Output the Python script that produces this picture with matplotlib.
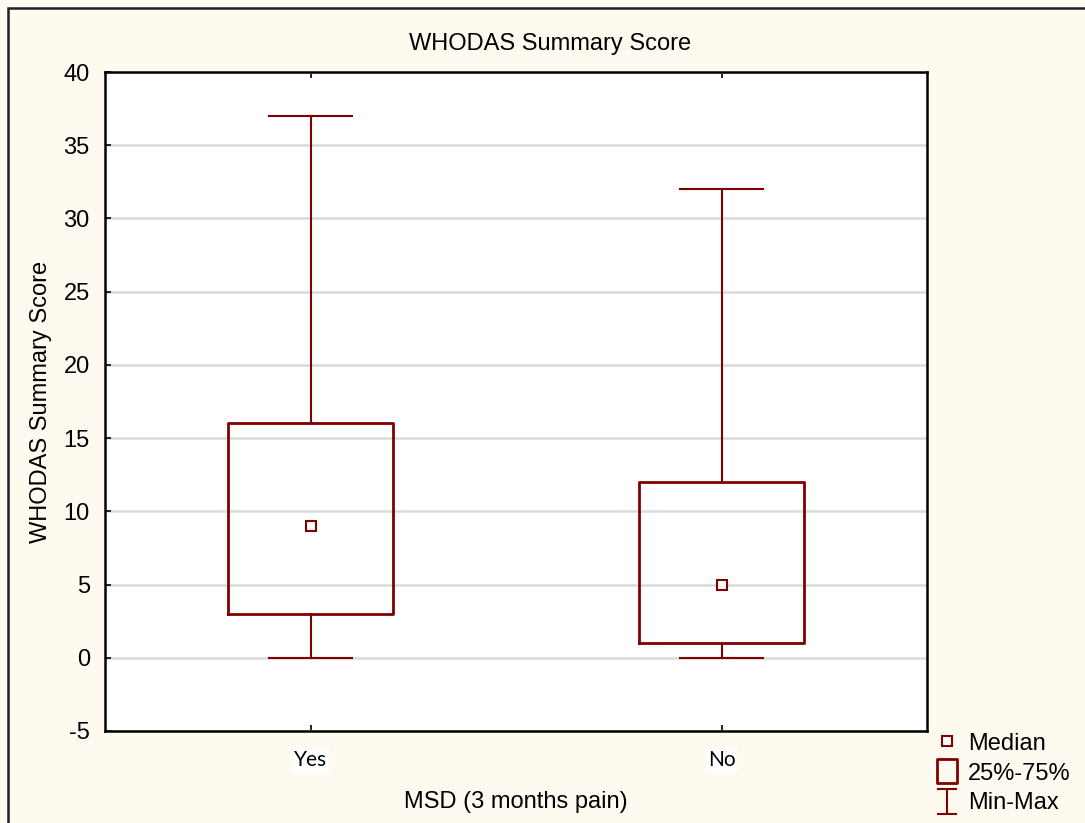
import matplotlib
matplotlib.use("Agg")
import matplotlib.pyplot as plt
from matplotlib.lines import Line2D
from matplotlib.path import Path
from matplotlib.patches import Rectangle

# Summary statistics per group
groups = ["Yes", "No"]
minimum = [0, 0]
q1 = [3, 1]
median = [9, 5]
q3 = [16, 12]
maximum = [37, 32]
y_ticks = [-5, 0, 5, 10, 15, 20, 25, 30, 35, 40]

dark_red = "#800000"
bg = "#FFFAF0"

plt.rcParams["font.family"] = ["Liberation Sans", "DejaVu Sans"]

fig = plt.figure(figsize=(10.85, 8.23), dpi=100, facecolor=bg)
ax = fig.add_axes([0.0968, 0.1118, 0.7576, 0.8007])
ax.set_facecolor("white")

stats = []
for i, g in enumerate(groups):
    stats.append(dict(label=g, whislo=minimum[i], q1=q1[i], med=median[i],
                      q3=q3[i], whishi=maximum[i], fliers=[]))

ax.bxp(stats, positions=range(len(groups)), widths=0.4, showfliers=False,
       patch_artist=False,
       boxprops=dict(color=dark_red, linewidth=2.0),
       whiskerprops=dict(color=dark_red, linewidth=1.5),
       capprops=dict(color=dark_red, linewidth=1.5),
       medianprops=dict(linestyle="none"),
       capwidths=0.2)
ax.plot(range(len(groups)), median, linestyle="none", marker="s", markersize=7,
        markerfacecolor="white", markeredgecolor=dark_red, markeredgewidth=1.5,
        zorder=5)

ax.set_xlim(-0.5, 1.5)
ax.set_ylim(-5, 40)
ax.set_yticks(y_ticks)
ax.set_yticklabels([str(t) for t in y_ticks], fontsize=17)
ax.set_xticks(range(len(groups)))
ax.set_xticklabels(groups, fontsize=15, family=["Lato", "DejaVu Sans"])
for lbl in ax.get_xticklabels():
    lbl.set_bbox(dict(facecolor="white", edgecolor="none", pad=1))
ax.yaxis.grid(True, color="#DADADA", linewidth=1.8)
ax.set_axisbelow(True)
ax.tick_params(axis="y", direction="in", length=4, width=1.2, pad=11, left=True)
ax.tick_params(axis="x", direction="in", length=4, width=1.2, pad=14,
               top=True, bottom=True)
for s in ax.spines.values():
    s.set_linewidth(1.8)
    s.set_color("black")

ax.set_ylabel("WHODAS Summary Score", fontsize=17, labelpad=8)
ax.set_xlabel("MSD (3 months pain)", fontsize=17, labelpad=15)
fig.text(0.507, 0.947, "WHODAS Summary Score", fontsize=17,
         ha="center", va="center")

# Outer frame
fig.patches.append(Rectangle((8 / 1085, -0.1), 1.2, 1 - 8 / 823 + 0.1,
                             transform=fig.transFigure, fill=False,
                             edgecolor="#222222", linewidth=1.8))

# Legend
ibeam = Path([(-0.4, 0.5), (0.4, 0.5), (0, 0.5), (0, -0.5), (-0.4, -0.5), (0.4, -0.5)],
             [Path.MOVETO, Path.LINETO, Path.MOVETO, Path.LINETO,
              Path.MOVETO, Path.LINETO])
box_marker = Path([(-0.42, -0.5), (0.42, -0.5), (0.42, 0.5), (-0.42, 0.5), (-0.42, -0.5)],
                  [Path.MOVETO, Path.LINETO, Path.LINETO, Path.LINETO, Path.CLOSEPOLY])
handles = [
    Line2D([], [], linestyle="none", marker="s", markersize=7,
           markerfacecolor="white", markeredgecolor=dark_red, markeredgewidth=1.5),
    Line2D([], [], linestyle="none", marker=box_marker, markersize=17,
           markerfacecolor="none", markeredgecolor=dark_red, markeredgewidth=2),
    Line2D([], [], linestyle="none", marker=ibeam, markersize=18,
           markerfacecolor="none", markeredgecolor=dark_red, markeredgewidth=1.5),
]
fig.legend(handles, ["Median", "25%-75%", "Min-Max"], loc="upper left",
           bbox_to_anchor=(0.862, 0.1097), frameon=False, fontsize=17,
           handlelength=1.0, handletextpad=0.4, labelspacing=0.33,
           borderpad=0.0, borderaxespad=0.0)

fig.savefig("out.png", dpi=100, facecolor=bg)
